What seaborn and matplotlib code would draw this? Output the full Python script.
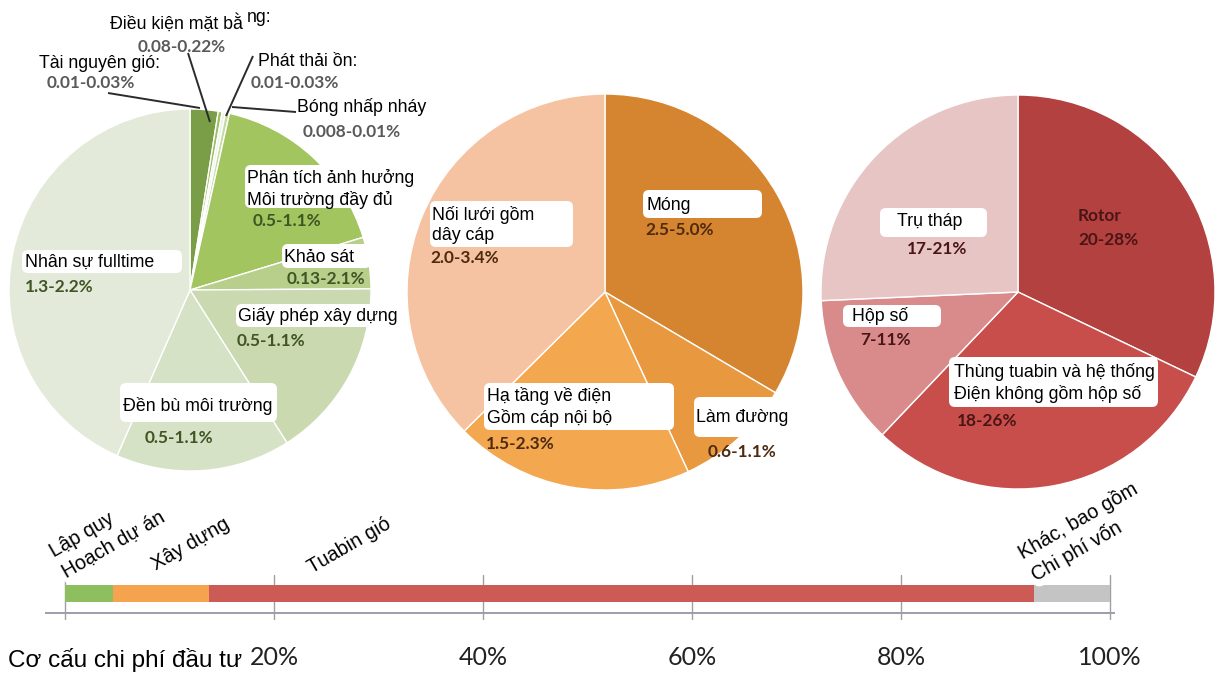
import matplotlib
matplotlib.use("Agg")
import matplotlib.pyplot as plt
from matplotlib.patches import FancyBboxPatch
import numpy as np
import pandas as pd
import seaborn as sns

# ---------------- data ----------------
# Project development costs (slice shares clockwise from 12 o'clock)
dev_labels = ["Điều kiện mặt bằng", "Tài nguyên gió:", "Phát thải ồn:", "Bóng nhấp nháy",
              "Phân tích ảnh hưởng\nMôi trường đầy đủ", "Khảo sát", "Giấy phép xây dựng",
              "Đền bù môi trường", "Nhân sự fulltime"]
dev_shares = [2.5, 0.35, 0.3, 0.35, 16.8, 4.6, 16.1, 15.6, 43.4]
dev_ranges = ["0.08-0.22%", "0.01-0.03%", "0.01-0.03%", "0.008-0.01%",
              "0.5-1.1%", "0.13-2.1%", "0.5-1.1%", "0.5-1.1%", "1.3-2.2%"]

# Construction costs
con_labels = ["Móng", "Làm đường", "Hạ tầng về điện\nGồm cáp nội bộ", "Nối lưới gồm\ndây cáp"]
con_shares = [33.5, 9.6, 19.5, 37.4]
con_ranges = ["2.5-5.0%", "0.6-1.1%", "1.5-2.3%", "2.0-3.4%"]

# Wind turbine costs
tur_labels = ["Rotor", "Thùng tuabin và hệ thống\nĐiện không gồm hộp số", "Hộp số", "Trụ tháp"]
tur_shares = [32.1, 30.0, 12.2, 25.7]
tur_ranges = ["20-28%", "18-26%", "7-11%", "17-21%"]

# Overall investment structure (stacked bar)
bar_parts = ["Lập quy\nHoạch dự án", "Xây dựng", "Tuabin gió", "Khác, bao gồm\nChi phí vốn"]
bar_shares = [4.6, 9.2, 78.9, 7.3]
bar_ticks = [0, 20, 40, 60, 80, 100]
bar_tick_labels = ["", "20%", "40%", "60%", "80%", "100%"]
bar_title = "Cơ cấu chi phí đầu tư"

# ---------------- style ----------------
dev_colors = ["#7a9d48", "#9bbf62", "#eef4e4", "#c3dba0", "#a2c55f",
              "#b7cf8b", "#cad9af", "#d6e2c5", "#e3ead9"]
con_colors = ["#d5852f", "#e8983f", "#f3a74e", "#f6c3a2"]
tur_colors = ["#b3413f", "#c84e4c", "#d98b8c", "#e7c5c5"]
bar_colors = ["#8dbf5e", "#f5a34f", "#cc5a55", "#c4c4c4"]

sns.set_theme(style="white")
plt.rcParams["font.family"] = ["Liberation Sans", "DejaVu Sans"]

W, H = 1215, 675
fig = plt.figure(figsize=(W / 100, H / 100), dpi=100)
fig.patch.set_facecolor("white")

LABEL_FS = 12.8
VALUE_FS = 12.4
NUM_FONT = ["Lato", "DejaVu Sans"]


def pie_axes(cx, cy, r, shares, colors):
    ax = fig.add_axes([(cx - r) / W, (H - cy - r) / H, 2 * r / W, 2 * r / H])
    wedges, _ = ax.pie(shares, colors=colors, startangle=90, counterclock=False,
                       wedgeprops=dict(edgecolor="white", linewidth=1.0))
    for w in wedges:
        w.set_clip_on(False)
    ax.set_xlim(-1, 1)
    ax.set_ylim(-1, 1)
    ax.set_aspect("equal")
    ax.axis("off")
    return ax


pie_axes(190, 290, 181, dev_shares, dev_colors)
pie_axes(605, 292, 198, con_shares, con_colors)
pie_axes(1018, 292, 197, tur_shares, tur_colors)

# ---------------- stacked bar ----------------
x0_px, x100_px = 65, 1110
px_per = (x100_px - x0_px) / 100
xlim = (-1.9, 100.5)
top_px, bot_px = 575, 620
bar_center_px, unit_px = 593.5, 21.25
bax = fig.add_axes([(x0_px + xlim[0] * px_per) / W, (H - bot_px) / H,
                    (xlim[1] - xlim[0]) * px_per / W, (bot_px - top_px) / H])

cum = np.cumsum(bar_shares)
bar_df = pd.DataFrame({"part": bar_parts, "cum": cum, "row": [bar_title] * len(cum)})
for i in reversed(range(len(bar_df))):
    sns.barplot(data=bar_df.iloc[[i]], x="cum", y="row", orient="h",
                color=bar_colors[i], width=0.8, saturation=1, linewidth=0, ax=bax)

bax.set_xlim(*xlim)
bax.set_ylim((bot_px - bar_center_px) / unit_px, (top_px - bar_center_px) / unit_px)
bax.set_xticks(bar_ticks)
bax.set_xticklabels(bar_tick_labels, fontsize=18, family=NUM_FONT, color="#222222")
bax.tick_params(axis="x", length=0, pad=19)
bax.set_yticks([])
bax.set_xlabel("")
bax.set_ylabel("")
bax.xaxis.grid(True, color="#a0a0a0", linewidth=1.0)
bax.yaxis.grid(False)
bax.set_axisbelow(True)
for s in bax.spines.values():
    s.set_visible(False)
bax.patch.set_alpha(0)
bax.axhline((613 - bar_center_px) / unit_px, color="#9d9dab", linewidth=1.4, zorder=0.5)

# ---------------- annotation layer (pixel coordinates) ----------------
ov = fig.add_axes([0, 0, 1, 1])
ov.set_xlim(0, W)
ov.set_ylim(H, 0)
ov.axis("off")
ov.patch.set_alpha(0)


def box(x0, y0, x1, y1):
    ov.add_patch(FancyBboxPatch((x0, y0), x1 - x0, y1 - y0,
                                boxstyle="round,pad=0,rounding_size=6",
                                fc="white", ec="none", zorder=3))


def label(x, y, s, fs=LABEL_FS, color="black"):
    ov.text(x, y, s, ha="left", va="center", fontsize=fs, color=color,
            linespacing=1.22, zorder=4)


def value(x, y, s, color, weight="bold"):
    ov.text(x, y, s, ha="left", va="center", fontsize=VALUE_FS, color=color,
            family=NUM_FONT, fontweight=weight, zorder=4)


def leader(xa, ya, xb, yb):
    ov.plot([xa, xb], [ya, yb], color="#2b2b2b", linewidth=1.4,
            solid_capstyle="butt", zorder=5)


# development pie: small slices at the top with leader lines
green_val = "#3f5524"
grey_val = "#5a5a5a"
leader(188, 53, 210, 122)
leader(108, 93, 200, 108)
leader(253, 56, 226, 116)
leader(232, 107, 296, 112)

label(110, 23, "Điều kiện mặt bằ")
label(247, 18, "ng:")
value(138, 47, dev_ranges[0], grey_val)
label(39, 63, dev_labels[1])
value(47, 83, dev_ranges[1], grey_val)
label(258, 62, dev_labels[2])
value(251, 83, dev_ranges[2], grey_val)
label(297, 107, dev_labels[3])
value(303, 132, dev_ranges[3], grey_val)

box(245, 165, 415, 208)
label(247, 189, dev_labels[4])
value(253, 221, dev_ranges[4], green_val)
box(282, 244, 371, 268)
label(284, 257, dev_labels[5])
value(287, 279, dev_ranges[5], green_val)
box(236, 304, 398, 327)
label(238, 316, dev_labels[6])
value(237, 341, dev_ranges[6], green_val)
box(120, 383, 277, 422)
label(123, 406, dev_labels[7])
value(145, 438, dev_ranges[7], green_val)
box(22, 250, 182, 273)
label(25, 262, dev_labels[8])
value(25, 287, dev_ranges[8], green_val)

# construction pie
brown_val = "#4e2a10"
box(643, 190, 762, 218)
label(646, 205, con_labels[0])
value(645, 230, con_ranges[0], brown_val)
box(694, 397, 815, 437)
label(696, 417, con_labels[1])
value(708, 452, con_ranges[1], brown_val)
box(484, 383, 674, 430)
label(487, 407, con_labels[2])
value(486, 444, con_ranges[2], brown_val)
box(430, 201, 573, 247)
label(432, 225, con_labels[3])
value(430, 258, con_ranges[3], brown_val)

# turbine pie
red_val = "#4a1515"
value(1078, 216, tur_labels[0], red_val)
value(1078, 240, tur_ranges[0], red_val)
box(949, 357, 1158, 407)
label(954, 383, tur_labels[1])
value(957, 421, tur_ranges[1], red_val)
box(843, 305, 941, 327)
label(852, 316, tur_labels[2])
value(860, 340, tur_ranges[2], red_val)
box(880, 208, 987, 237)
label(897, 222, tur_labels[3])
value(907, 249, tur_ranges[3], red_val)

# stacked bar labels (rotated)
bar_label_pos = [(68, 582), (158, 574), (314, 577), (1038, 585)]
for (lx, ly), s in zip(bar_label_pos, bar_parts):
    ov.text(lx, ly, s, rotation=30, rotation_mode="anchor", ha="left", va="bottom",
            fontsize=14.3, color="black", linespacing=1.35, zorder=6,
            bbox=dict(boxstyle="round,pad=0.15,rounding_size=0.4", fc="white", ec="none"))

ov.text(8, 660, bar_title, ha="left", va="center", fontsize=17.5, color="black", zorder=6)

fig.savefig("out.png", dpi=100, facecolor="white")
